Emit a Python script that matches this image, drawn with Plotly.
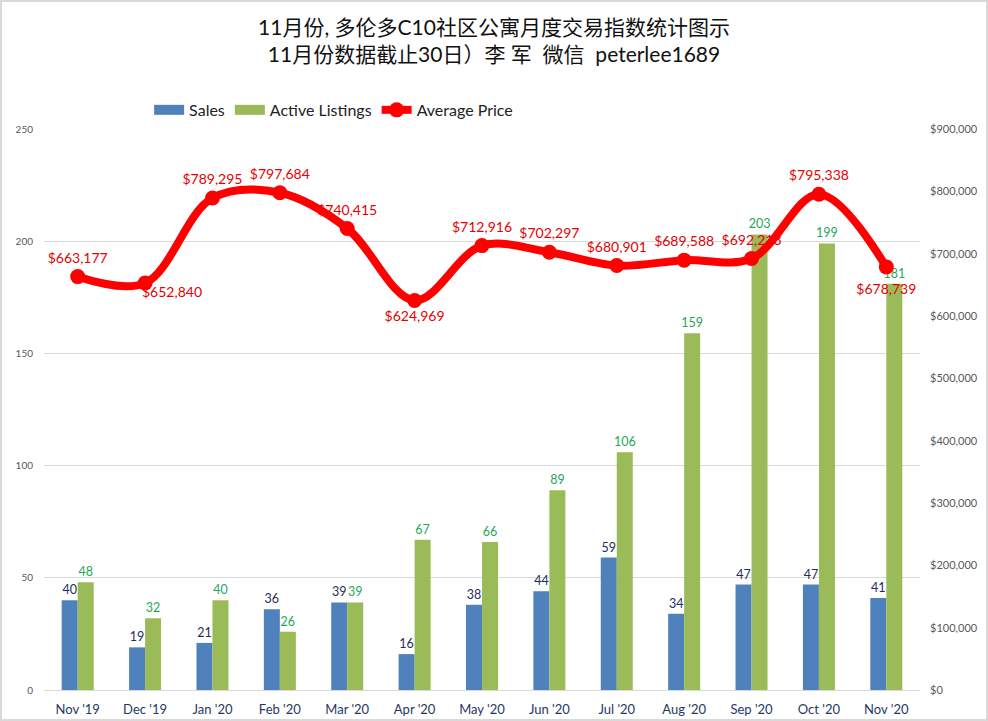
import plotly.graph_objects as go

FONT = "Lato, 'Noto Sans CJK SC', sans-serif"
months = ["Nov '19","Dec '19","Jan '20","Feb '20","Mar '20","Apr '20","May '20","Jun '20","Jul '20","Aug '20","Sep '20","Oct '20","Nov '20"]
sales = [40,19,21,36,39,16,38,44,59,34,47,47,41]
listings = [48,32,40,26,39,67,66,89,106,159,203,199,181]
price = [663177,652840,789295,797684,740415,624969,712916,702297,680901,689588,692213,795338,678739]
price_label_pos = ["top center","bottom center","top center","top center","top center","bottom center","top center","top center","top center","top center","top center","top center","bottom center"]
title_lines = ["11月份, 多伦多C10社区公寓月度交易指数统计图示","11月份数据截止30日）李 军  微信  peterlee1689"]

BLUE="#4f81bd"; GREEN="#9bbb59"; RED="#ff0000"; LABEL_RED="#e60000"
ML,MR,MT,MB = 44,68,129,31
W,H = 988,721
price_text = [f"${v:,}" for v in price]
DEC = 1
label_gap = [15]*12+[25]

fig = go.Figure()
fig.add_bar(x=months,y=sales,name="Sales",marker=dict(color=BLUE,line_width=0),text=sales,textposition="outside",
            constraintext="none",textfont=dict(color="#1f2d5a",size=12.5,family=FONT),cliponaxis=False,showlegend=False)
fig.add_bar(x=months,y=listings,name="Active Listings",marker=dict(color=GREEN,line_width=0),text=listings,textposition="outside",
            constraintext="none",textfont=dict(color="#1fa85a",size=12.5,family=FONT),cliponaxis=False,showlegend=False)
# legend entries with wide swatches
for nm,col in (("Sales",BLUE),("Active Listings",GREEN)):
    fig.add_scatter(x=months[:1],y=[None],mode="lines",name=nm,line=dict(color=col,width=11),hoverinfo="skip")
fig.add_scatter(x=months,y=price,yaxis="y2",mode="markers+text",showlegend=False,
                text=["" if i==DEC else t for i,t in enumerate(price_text)],textposition=price_label_pos,
                marker=dict(size=label_gap,opacity=0),
                textfont=dict(color=LABEL_RED,size=14,family=FONT),cliponaxis=False,hoverinfo="skip")
fig.add_scatter(x=months,y=price,yaxis="y2",mode="lines+markers",name="Average Price",
                line=dict(color=RED,width=8,shape="spline",smoothing=1.0),
                marker=dict(color=RED,size=15),cliponaxis=False)

fig.update_layout(
    width=W,height=H,autosize=False,
    margin=dict(l=ML,r=MR,t=MT,b=MB,autoexpand=False),
    paper_bgcolor="white",plot_bgcolor="white",
    barmode="group",bargap=0.525,bargroupgap=0,
    font=dict(family=FONT),
    title=dict(text="<br>".join(title_lines),x=0.5,xanchor="center",y=0.952,yanchor="top",
               font=dict(size=21,color="#111111",family=FONT)),
    legend=dict(orientation="h",x=0.12,y=1.034,xanchor="left",yanchor="middle",traceorder="normal",
                font=dict(size=16,color="#222222",family=FONT),itemwidth=30,bgcolor="rgba(0,0,0,0)"),
    xaxis=dict(range=[-0.5,12.5],showgrid=False,showline=True,linecolor="#d9d9d9",ticks="",ticklabelstandoff=7,
               tickfont=dict(size=13,color="#1f3864",family=FONT)),
    yaxis=dict(range=[0,250],tickvals=[0,50,100,150,200,250],gridcolor="#d9d9d9",zeroline=False,
               tickfont=dict(size=10,color="#595959",family=FONT),ticklabelstandoff=10),
    yaxis2=dict(range=[0,900000],overlaying="y",side="right",tickvals=list(range(0,900001,100000)),
                tickformat="$,d",showgrid=False,zeroline=False,ticklabelstandoff=9,
                tickfont=dict(size=11,color="#595959",family=FONT)),
    annotations=[dict(x=months[DEC],y=price[DEC],yref="y2",text=price_text[DEC],showarrow=False,
                      xshift=27,yshift=-8,font=dict(color=LABEL_RED,size=14,family=FONT))],
    shapes=[dict(type="rect",xref="paper",yref="paper",layer="above",line=dict(color="#d9d9d9",width=2),
                 x0=(1-ML)/(W-ML-MR),x1=(W-1-ML)/(W-ML-MR),
                 y0=-(MB-1)/(H-MT-MB),y1=(H-MB-1)/(H-MT-MB))],
)
fig.write_html("out.html",config=dict(displayModeBar=False),post_script="document.body.style.margin='0';")
